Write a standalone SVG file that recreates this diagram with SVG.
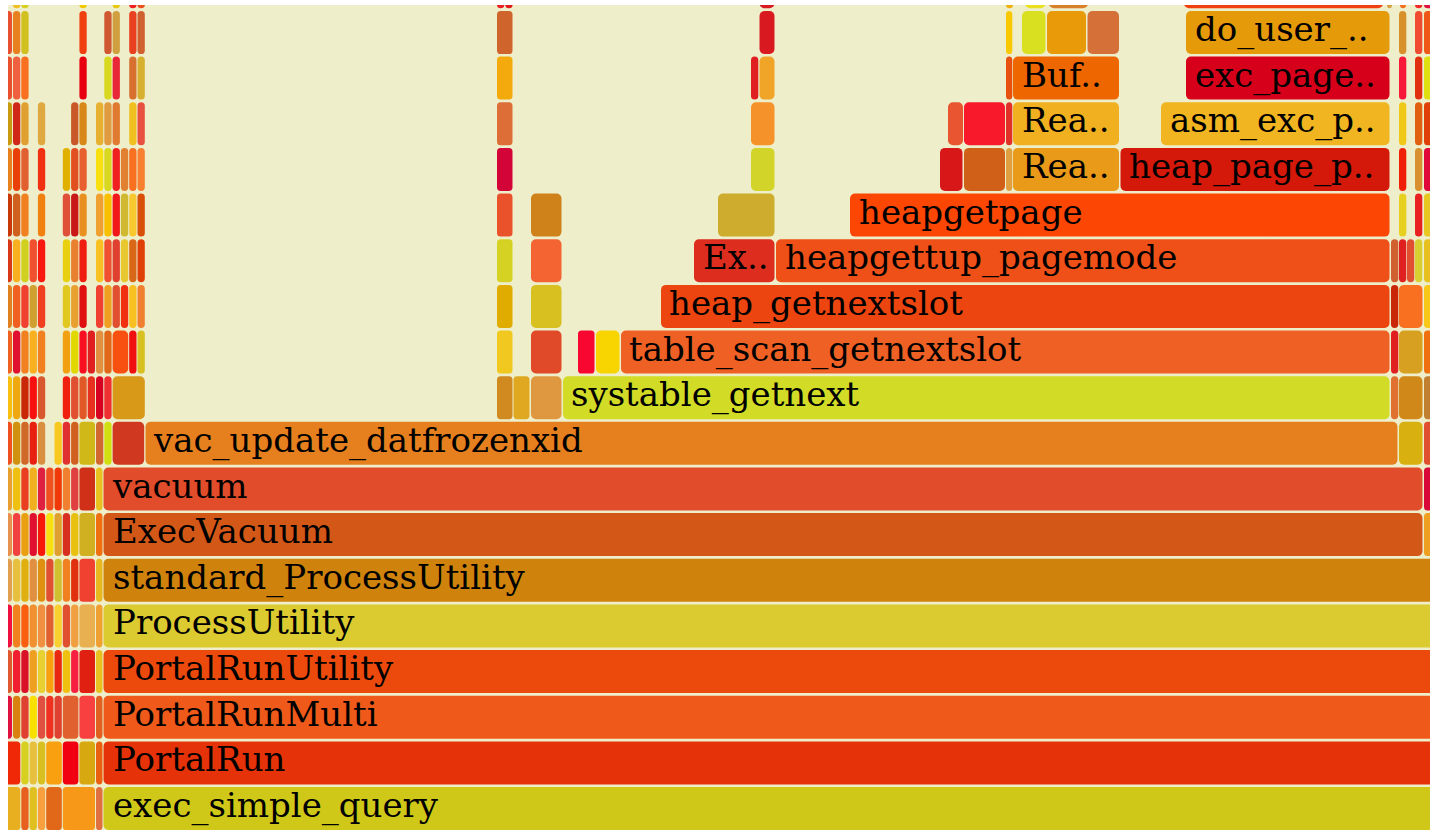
<svg xmlns="http://www.w3.org/2000/svg" width="1430" height="832" viewBox="0 0 1430 832">
<style>
  rect.b { rx: 5px; ry: 5px; }
  rect.n { rx: 3.6px; ry: 3.6px; }
  text { font-family: "DejaVu Serif", "Liberation Serif", serif; font-size: 34px; fill: #000; }
</style>
<defs>
  <clipPath id="plot"><rect x="8" y="5" width="1422" height="825"/></clipPath>
</defs>
<rect x="0" y="0" width="1430" height="832" fill="#ffffff"/>
<rect x="8" y="5" width="1422" height="825" fill="#eeeecb"/>

<g clip-path="url(#plot)">

<!-- narrow frames, left stack area, one group per depth -->
<g id="left-d0">
  <rect class="n" x="4.7" y="787" width="15.6" height="43" fill="#e8b020"/>
  <rect class="n" x="21.3" y="787" width="7.3" height="43" fill="#e86020"/>
  <rect class="n" x="29.6" y="787" width="7.3" height="43" fill="#e0c020"/>
  <rect class="n" x="37.9" y="787" width="7.3" height="43" fill="#f8a040"/>
  <rect class="n" x="46.2" y="787" width="15.6" height="43" fill="#e06818"/>
  <rect class="n" x="62.8" y="787" width="32.2" height="43" fill="#f89818"/>
  <rect class="n" x="96" y="787" width="6.5" height="43" fill="#e07040"/>
</g>
<g id="left-d1">
  <rect class="n" x="4.7" y="741.4" width="15.6" height="43" fill="#f02808"/>
  <rect class="n" x="21.3" y="741.4" width="7.3" height="43" fill="#d8d020"/>
  <rect class="n" x="29.6" y="741.4" width="7.3" height="43" fill="#e8c040"/>
  <rect class="n" x="37.9" y="741.4" width="7.3" height="43" fill="#d8c020"/>
  <rect class="n" x="46.2" y="741.4" width="15.6" height="43" fill="#f8a010"/>
  <rect class="n" x="62.8" y="741.4" width="15.6" height="43" fill="#f00010"/>
  <rect class="n" x="79.4" y="741.4" width="15.6" height="43" fill="#d8a810"/>
  <rect class="n" x="96" y="741.4" width="6.5" height="43" fill="#e86010"/>
</g>
<g id="left-d2">
  <rect class="n" x="4.7" y="695.7" width="7.3" height="43" fill="#e01040"/>
  <rect class="n" x="13" y="695.7" width="7.3" height="43" fill="#d88010"/>
  <rect class="n" x="21.3" y="695.7" width="7.3" height="43" fill="#e04030"/>
  <rect class="n" x="29.6" y="695.7" width="7.3" height="43" fill="#f8e000"/>
  <rect class="n" x="37.9" y="695.7" width="7.3" height="43" fill="#e05040"/>
  <rect class="n" x="46.2" y="695.7" width="7.3" height="43" fill="#f03020"/>
  <rect class="n" x="54.5" y="695.7" width="7.3" height="43" fill="#e04030"/>
  <rect class="n" x="62.8" y="695.7" width="15.6" height="43" fill="#e06030"/>
  <rect class="n" x="79.4" y="695.7" width="15.6" height="43" fill="#f84040"/>
  <rect class="n" x="96" y="695.7" width="6.5" height="43" fill="#e06020"/>
</g>
<g id="left-d3">
  <rect class="n" x="4.7" y="650.1" width="7.3" height="43" fill="#e05830"/>
  <rect class="n" x="13" y="650.1" width="7.3" height="43" fill="#f02030"/>
  <rect class="n" x="21.3" y="650.1" width="7.3" height="43" fill="#d81028"/>
  <rect class="n" x="29.6" y="650.1" width="7.3" height="43" fill="#f0a020"/>
  <rect class="n" x="37.9" y="650.1" width="7.3" height="43" fill="#e8d030"/>
  <rect class="n" x="46.2" y="650.1" width="7.3" height="43" fill="#f8a010"/>
  <rect class="n" x="54.5" y="650.1" width="7.3" height="43" fill="#e82810"/>
  <rect class="n" x="62.8" y="650.1" width="7.3" height="43" fill="#f0c010"/>
  <rect class="n" x="71.1" y="650.1" width="7.3" height="43" fill="#f82040"/>
  <rect class="n" x="79.4" y="650.1" width="15.6" height="43" fill="#e02010"/>
  <rect class="n" x="96" y="650.1" width="6.5" height="43" fill="#e8c020"/>
</g>
<g id="left-d4">
  <rect class="n" x="4.7" y="604.4" width="7.3" height="43" fill="#f01040"/>
  <rect class="n" x="13" y="604.4" width="7.3" height="43" fill="#f08020"/>
  <rect class="n" x="21.3" y="604.4" width="7.3" height="43" fill="#f86010"/>
  <rect class="n" x="29.6" y="604.4" width="7.3" height="43" fill="#f09030"/>
  <rect class="n" x="37.9" y="604.4" width="7.3" height="43" fill="#f09040"/>
  <rect class="n" x="46.2" y="604.4" width="7.3" height="43" fill="#e06030"/>
  <rect class="n" x="54.5" y="604.4" width="7.3" height="43" fill="#f8d030"/>
  <rect class="n" x="62.8" y="604.4" width="7.3" height="43" fill="#e05030"/>
  <rect class="n" x="71.1" y="604.4" width="7.3" height="43" fill="#f0a040"/>
  <rect class="n" x="79.4" y="604.4" width="15.6" height="43" fill="#e8b050"/>
  <rect class="n" x="96" y="604.4" width="6.5" height="43" fill="#f0a030"/>
</g>
<g id="left-d5">
  <rect class="n" x="4.7" y="558.8" width="7.3" height="43" fill="#e0a050"/>
  <rect class="n" x="13" y="558.8" width="7.3" height="43" fill="#e8c040"/>
  <rect class="n" x="21.3" y="558.8" width="7.3" height="43" fill="#e0b010"/>
  <rect class="n" x="29.6" y="558.8" width="7.3" height="43" fill="#e09040"/>
  <rect class="n" x="37.9" y="558.8" width="7.3" height="43" fill="#e09010"/>
  <rect class="n" x="46.2" y="558.8" width="7.3" height="43" fill="#e05030"/>
  <rect class="n" x="54.5" y="558.8" width="7.3" height="43" fill="#d0c030"/>
  <rect class="n" x="62.8" y="558.8" width="7.3" height="43" fill="#f08020"/>
  <rect class="n" x="71.1" y="558.8" width="7.3" height="43" fill="#e03010"/>
  <rect class="n" x="79.4" y="558.8" width="15.6" height="43" fill="#f04030"/>
  <rect class="n" x="96" y="558.8" width="6.5" height="43" fill="#e8b820"/>
</g>
<g id="left-d6">
  <rect class="n" x="4.7" y="513.1" width="7.3" height="43" fill="#e89050"/>
  <rect class="n" x="13" y="513.1" width="7.3" height="43" fill="#f04040"/>
  <rect class="n" x="21.3" y="513.1" width="7.3" height="43" fill="#e8a010"/>
  <rect class="n" x="29.6" y="513.1" width="7.3" height="43" fill="#e01030"/>
  <rect class="n" x="37.9" y="513.1" width="7.3" height="43" fill="#f81808"/>
  <rect class="n" x="46.2" y="513.1" width="7.3" height="43" fill="#f8e010"/>
  <rect class="n" x="54.5" y="513.1" width="7.3" height="43" fill="#e0a030"/>
  <rect class="n" x="62.8" y="513.1" width="7.3" height="43" fill="#d83020"/>
  <rect class="n" x="71.1" y="513.1" width="7.3" height="43" fill="#e8c010"/>
  <rect class="n" x="79.4" y="513.1" width="15.6" height="43" fill="#d0b020"/>
  <rect class="n" x="96" y="513.1" width="6.5" height="43" fill="#f07010"/>
</g>
<g id="left-d7">
  <rect class="n" x="4.7" y="467.5" width="7.3" height="43" fill="#e8a030"/>
  <rect class="n" x="13" y="467.5" width="7.3" height="43" fill="#f0c010"/>
  <rect class="n" x="21.3" y="467.5" width="7.3" height="43" fill="#e84020"/>
  <rect class="n" x="29.6" y="467.5" width="7.3" height="43" fill="#f0b020"/>
  <rect class="n" x="37.9" y="467.5" width="7.3" height="43" fill="#e02040"/>
  <rect class="n" x="46.2" y="467.5" width="7.3" height="43" fill="#f05020"/>
  <rect class="n" x="54.5" y="467.5" width="7.3" height="43" fill="#f03808"/>
  <rect class="n" x="62.8" y="467.5" width="7.3" height="43" fill="#f08030"/>
  <rect class="n" x="71.1" y="467.5" width="7.3" height="43" fill="#e04040"/>
  <rect class="n" x="79.4" y="467.5" width="15.6" height="43" fill="#d03018"/>
  <rect class="n" x="96" y="467.5" width="6.5" height="43" fill="#e8c020"/>
</g>
<g id="left-d8">
  <rect class="n" x="4.7" y="421.8" width="7.3" height="43" fill="#f05020"/>
  <rect class="n" x="13" y="421.8" width="7.3" height="43" fill="#d09010"/>
  <rect class="n" x="21.3" y="421.8" width="7.3" height="43" fill="#d06828"/>
  <rect class="n" x="29.6" y="421.8" width="7.3" height="43" fill="#e82010"/>
  <rect class="n" x="37.9" y="421.8" width="7.3" height="43" fill="#d89040"/>
  <rect class="n" x="54.5" y="421.8" width="7.3" height="43" fill="#f8c820"/>
  <rect class="n" x="62.8" y="421.8" width="7.3" height="43" fill="#e03030"/>
  <rect class="n" x="71.1" y="421.8" width="7.3" height="43" fill="#d06020"/>
  <rect class="n" x="79.4" y="421.8" width="15.6" height="43" fill="#d0b818"/>
  <rect class="n" x="96" y="421.8" width="7.3" height="43" fill="#d06830"/>
  <rect class="n" x="104.3" y="421.8" width="7.3" height="43" fill="#d0e010"/>
  <rect class="b" x="112.6" y="421.8" width="31.6" height="43" fill="#d03820"/>
</g>
<g id="left-d9">
  <rect class="n" x="4.7" y="376.2" width="7.3" height="43" fill="#f8c010"/>
  <rect class="n" x="13" y="376.2" width="7.3" height="43" fill="#f0a810"/>
  <rect class="n" x="21.3" y="376.2" width="7.3" height="43" fill="#c82808"/>
  <rect class="n" x="29.6" y="376.2" width="7.3" height="43" fill="#f81010"/>
  <rect class="n" x="37.9" y="376.2" width="7.3" height="43" fill="#d85830"/>
  <rect class="n" x="62.8" y="376.2" width="7.3" height="43" fill="#f02010"/>
  <rect class="n" x="71.1" y="376.2" width="7.3" height="43" fill="#e05030"/>
  <rect class="n" x="79.4" y="376.2" width="7.3" height="43" fill="#e05828"/>
  <rect class="n" x="87.7" y="376.2" width="7.3" height="43" fill="#e83020"/>
  <rect class="n" x="96" y="376.2" width="7.3" height="43" fill="#d80020"/>
  <rect class="n" x="104.3" y="376.2" width="7.3" height="43" fill="#f03030"/>
  <rect class="b" x="112.6" y="376.2" width="32.2" height="43" fill="#d89818"/>
</g>
<g id="left-d10">
  <rect class="n" x="4.7" y="330.5" width="7.3" height="43" fill="#f06020"/>
  <rect class="n" x="13" y="330.5" width="7.3" height="43" fill="#e01030"/>
  <rect class="n" x="21.3" y="330.5" width="7.3" height="43" fill="#f08020"/>
  <rect class="n" x="29.6" y="330.5" width="7.3" height="43" fill="#f8b020"/>
  <rect class="n" x="37.9" y="330.5" width="7.3" height="43" fill="#f08020"/>
  <rect class="n" x="62.8" y="330.5" width="7.3" height="43" fill="#f0a010"/>
  <rect class="n" x="71.1" y="330.5" width="7.3" height="43" fill="#e0d800"/>
  <rect class="n" x="79.4" y="330.5" width="7.3" height="43" fill="#f81020"/>
  <rect class="n" x="87.7" y="330.5" width="7.3" height="43" fill="#e02020"/>
  <rect class="n" x="96" y="330.5" width="7.3" height="43" fill="#e09040"/>
  <rect class="n" x="104.3" y="330.5" width="7.3" height="43" fill="#e06818"/>
  <rect class="b" x="112.6" y="330.5" width="15.6" height="43" fill="#f85010"/>
  <rect class="n" x="129.2" y="330.5" width="7.3" height="43" fill="#f01010"/>
  <rect class="n" x="137.5" y="330.5" width="7.3" height="43" fill="#d8c020"/>
</g>
<g id="left-d11">
  <rect class="n" x="4.7" y="284.9" width="7.3" height="43" fill="#e08020"/>
  <rect class="n" x="13" y="284.9" width="7.3" height="43" fill="#f06020"/>
  <rect class="n" x="21.3" y="284.9" width="7.3" height="43" fill="#f04030"/>
  <rect class="n" x="29.6" y="284.9" width="7.3" height="43" fill="#d0a030"/>
  <rect class="n" x="37.9" y="284.9" width="7.3" height="43" fill="#f04020"/>
  <rect class="n" x="62.8" y="284.9" width="7.3" height="43" fill="#e0c820"/>
  <rect class="n" x="71.1" y="284.9" width="7.3" height="43" fill="#e8a030"/>
  <rect class="n" x="79.4" y="284.9" width="7.3" height="43" fill="#e01010"/>
  <rect class="n" x="96" y="284.9" width="7.3" height="43" fill="#f04030"/>
  <rect class="n" x="104.3" y="284.9" width="7.3" height="43" fill="#f0a020"/>
  <rect class="n" x="112.6" y="284.9" width="7.3" height="43" fill="#e05030"/>
  <rect class="n" x="120.9" y="284.9" width="7.3" height="43" fill="#f03010"/>
  <rect class="n" x="129.2" y="284.9" width="7.3" height="43" fill="#f8c020"/>
  <rect class="n" x="137.5" y="284.9" width="7.3" height="43" fill="#f08030"/>
</g>
<g id="left-d12">
  <rect class="n" x="4.7" y="239.2" width="7.3" height="43" fill="#d83818"/>
  <rect class="n" x="13" y="239.2" width="7.3" height="43" fill="#f8b020"/>
  <rect class="n" x="21.3" y="239.2" width="7.3" height="43" fill="#d0d020"/>
  <rect class="n" x="29.6" y="239.2" width="7.3" height="43" fill="#f05030"/>
  <rect class="n" x="37.9" y="239.2" width="7.3" height="43" fill="#f81810"/>
  <rect class="n" x="62.8" y="239.2" width="7.3" height="43" fill="#e8d010"/>
  <rect class="n" x="71.1" y="239.2" width="7.3" height="43" fill="#e88030"/>
  <rect class="n" x="79.4" y="239.2" width="7.3" height="43" fill="#f02010"/>
  <rect class="n" x="96" y="239.2" width="7.3" height="43" fill="#f8c020"/>
  <rect class="n" x="104.3" y="239.2" width="7.3" height="43" fill="#f05030"/>
  <rect class="n" x="112.6" y="239.2" width="7.3" height="43" fill="#e04030"/>
  <rect class="n" x="120.9" y="239.2" width="7.3" height="43" fill="#e8c830"/>
  <rect class="n" x="129.2" y="239.2" width="7.3" height="43" fill="#d86818"/>
  <rect class="n" x="137.5" y="239.2" width="7.3" height="43" fill="#e04008"/>
</g>
<g id="left-d13">
  <rect class="n" x="4.7" y="193.6" width="7.3" height="43" fill="#c83808"/>
  <rect class="n" x="13" y="193.6" width="7.3" height="43" fill="#d06020"/>
  <rect class="n" x="21.3" y="193.6" width="7.3" height="43" fill="#f08020"/>
  <rect class="n" x="37.9" y="193.6" width="7.3" height="43" fill="#f08010"/>
  <rect class="n" x="62.8" y="193.6" width="7.3" height="43" fill="#e05038"/>
  <rect class="n" x="71.1" y="193.6" width="7.3" height="43" fill="#c81818"/>
  <rect class="n" x="79.4" y="193.6" width="7.3" height="43" fill="#e89020"/>
  <rect class="n" x="96" y="193.6" width="7.3" height="43" fill="#f0a030"/>
  <rect class="n" x="104.3" y="193.6" width="7.3" height="43" fill="#f8c000"/>
  <rect class="n" x="112.6" y="193.6" width="7.3" height="43" fill="#f01818"/>
  <rect class="n" x="120.9" y="193.6" width="7.3" height="43" fill="#d0b830"/>
  <rect class="n" x="129.2" y="193.6" width="7.3" height="43" fill="#f8c830"/>
  <rect class="n" x="137.5" y="193.6" width="7.3" height="43" fill="#d85008"/>
</g>
<g id="left-d14">
  <rect class="n" x="4.7" y="147.9" width="7.3" height="43" fill="#e88020"/>
  <rect class="n" x="13" y="147.9" width="7.3" height="43" fill="#e84008"/>
  <rect class="n" x="21.3" y="147.9" width="7.3" height="43" fill="#e06030"/>
  <rect class="n" x="37.9" y="147.9" width="7.3" height="43" fill="#f03010"/>
  <rect class="n" x="62.8" y="147.9" width="7.3" height="43" fill="#e0b000"/>
  <rect class="n" x="71.1" y="147.9" width="7.3" height="43" fill="#e05020"/>
  <rect class="n" x="79.4" y="147.9" width="7.3" height="43" fill="#e86030"/>
  <rect class="n" x="96" y="147.9" width="7.3" height="43" fill="#f8e010"/>
  <rect class="n" x="104.3" y="147.9" width="7.3" height="43" fill="#d8d820"/>
  <rect class="n" x="112.6" y="147.9" width="7.3" height="43" fill="#f02020"/>
  <rect class="n" x="120.9" y="147.9" width="7.3" height="43" fill="#e08030"/>
  <rect class="n" x="129.2" y="147.9" width="7.3" height="43" fill="#f87020"/>
  <rect class="n" x="137.5" y="147.9" width="7.3" height="43" fill="#f88030"/>
</g>
<g id="left-d15">
  <rect class="n" x="4.7" y="102.3" width="7.3" height="43" fill="#c89a10"/>
  <rect class="n" x="13" y="102.3" width="7.3" height="43" fill="#d02818"/>
  <rect class="n" x="21.3" y="102.3" width="7.3" height="43" fill="#e0a030"/>
  <rect class="n" x="37.9" y="102.3" width="7.3" height="43" fill="#e0a840"/>
  <rect class="n" x="71.1" y="102.3" width="7.3" height="43" fill="#c85828"/>
  <rect class="n" x="79.4" y="102.3" width="7.3" height="43" fill="#d88818"/>
  <rect class="n" x="96" y="102.3" width="7.3" height="43" fill="#e8b030"/>
  <rect class="n" x="104.3" y="102.3" width="7.3" height="43" fill="#e09a40"/>
  <rect class="n" x="112.6" y="102.3" width="7.3" height="43" fill="#e07a30"/>
  <rect class="n" x="129.2" y="102.3" width="7.3" height="43" fill="#f0c020"/>
  <rect class="n" x="137.5" y="102.3" width="7.3" height="43" fill="#e85040"/>
</g>
<g id="left-d16">
  <rect class="n" x="4.7" y="56.6" width="7.3" height="43" fill="#e85030"/>
  <rect class="n" x="13" y="56.6" width="7.3" height="43" fill="#f06040"/>
  <rect class="n" x="21.3" y="56.6" width="7.3" height="43" fill="#f87020"/>
  <rect class="n" x="79.4" y="56.6" width="7.3" height="43" fill="#e80010"/>
  <rect class="n" x="104.3" y="56.6" width="7.3" height="43" fill="#d8d820"/>
  <rect class="n" x="112.6" y="56.6" width="7.3" height="43" fill="#e82838"/>
  <rect class="n" x="129.2" y="56.6" width="7.3" height="43" fill="#d87030"/>
  <rect class="n" x="137.5" y="56.6" width="7.3" height="43" fill="#d8b030"/>
</g>
<g id="left-d17">
  <rect class="n" x="4.7" y="11" width="7.3" height="43" fill="#e85030"/>
  <rect class="n" x="13" y="11" width="7.3" height="43" fill="#e88020"/>
  <rect class="n" x="21.3" y="11" width="7.3" height="43" fill="#d0c020"/>
  <rect class="n" x="79.4" y="11" width="7.3" height="43" fill="#f04010"/>
  <rect class="n" x="104.3" y="11" width="7.3" height="43" fill="#d05830"/>
  <rect class="n" x="112.6" y="11" width="7.3" height="43" fill="#d0a040"/>
  <rect class="n" x="129.2" y="11" width="7.3" height="43" fill="#e84020"/>
  <rect class="n" x="137.5" y="11" width="7.3" height="43" fill="#d06030"/>
</g>
<g id="left-d18">
  <rect class="n" x="13" y="-34.7" width="7.3" height="43" fill="#f0c020"/>
  <rect class="n" x="21.3" y="-34.7" width="7.3" height="43" fill="#d8d020"/>
  <rect class="n" x="79.4" y="-34.7" width="7.3" height="43" fill="#f0c800"/>
  <rect class="n" x="112.6" y="-34.7" width="7.3" height="43" fill="#e8c810"/>
  <rect class="n" x="129.2" y="-34.7" width="7.3" height="43" fill="#f02020"/>
  <rect class="n" x="137.5" y="-34.7" width="7.3" height="43" fill="#e85020"/>
</g>

<!-- narrow frames in the middle towers -->
<g id="mid-towers">
  <rect class="n" x="497" y="376.2" width="15.5" height="43" fill="#d08a20"/>
  <rect class="n" x="513.5" y="376.2" width="16" height="43" fill="#e0a820"/>
  <rect class="b" x="531" y="376.2" width="30.5" height="43" fill="#e09840"/>
  <rect class="n" x="497" y="330.5" width="15.5" height="43" fill="#f0c820"/>
  <rect class="b" x="531" y="330.5" width="30.5" height="43" fill="#e04a28"/>
  <rect class="n" x="497" y="284.9" width="15.5" height="43" fill="#e0ac00"/>
  <rect class="b" x="531" y="284.9" width="30.5" height="43" fill="#d8c020"/>
  <rect class="n" x="497" y="239.2" width="15.5" height="43" fill="#d6d224"/>
  <rect class="b" x="531" y="239.2" width="30.5" height="43" fill="#f46432"/>
  <rect class="n" x="497" y="193.6" width="15.5" height="43" fill="#ea522c"/>
  <rect class="b" x="531" y="193.6" width="30.5" height="43" fill="#d0821a"/>
  <rect class="n" x="497" y="147.9" width="15.5" height="43" fill="#d20438"/>
  <rect class="n" x="497" y="102.3" width="15.5" height="43" fill="#de6e38"/>
  <rect class="n" x="497" y="56.6" width="15.5" height="43" fill="#f4aa0c"/>
  <rect class="n" x="497" y="11" width="15.5" height="43" fill="#cf652c"/>
  <rect class="n" x="497" y="-34.7" width="7.3" height="43" fill="#e82020"/>
  <rect class="n" x="505.3" y="-34.7" width="7.3" height="43" fill="#e01818"/>
  <rect class="n" x="578" y="330.5" width="16.5" height="43" fill="#f80830"/>
  <rect class="b" x="596" y="330.5" width="23.5" height="43" fill="#f8d400"/>
  <rect class="b" x="718" y="193.6" width="56.5" height="43" fill="#cdac2e"/>
  <rect class="b" x="751" y="147.9" width="23.5" height="43" fill="#d2d42a"/>
  <rect class="b" x="751" y="102.3" width="23.5" height="43" fill="#f6922a"/>
  <rect class="n" x="751" y="56.6" width="7.3" height="43" fill="#e02020"/>
  <rect class="b" x="759.5" y="56.6" width="15" height="43" fill="#f0a428"/>
  <rect class="b" x="759.5" y="11" width="15" height="43" fill="#d81a20"/>
  <rect class="b" x="759.5" y="-34.7" width="15" height="43" fill="#d81a20"/>
</g>

<!-- small frames beside the page-fault stack -->
<g id="fault-side">
  <rect class="b" x="940" y="147.9" width="22.5" height="43" fill="#d81818"/>
  <rect class="b" x="964" y="147.9" width="41" height="43" fill="#d06018"/>
  <rect class="n" x="1006" y="147.9" width="6.3" height="43" fill="#e0a040"/>
  <rect class="b" x="948" y="102.3" width="15" height="43" fill="#e85530"/>
  <rect class="b" x="964" y="102.3" width="41" height="43" fill="#f81a2a"/>
  <rect class="n" x="1006" y="102.3" width="6.3" height="43" fill="#e03028"/>
  <rect class="n" x="1006" y="56.6" width="6.3" height="43" fill="#e85010"/>
  <rect class="n" x="1006" y="11" width="6.3" height="43" fill="#f8c800"/>
  <rect class="b" x="1022" y="11" width="23.5" height="43" fill="#d8e020"/>
  <rect class="b" x="1047" y="11" width="39" height="43" fill="#e89a08"/>
  <rect class="b" x="1087.5" y="11" width="31.5" height="43" fill="#d47038"/>
  <rect class="n" x="1006" y="-34.7" width="7" height="43" fill="#f0b010"/>
  <rect class="b" x="1025" y="-34.7" width="20.5" height="43" fill="#e8e020"/>
  <rect class="b" x="1049" y="-34.7" width="39" height="43" fill="#d8802a"/>
  <rect class="b" x="1184" y="-34.7" width="199" height="43" fill="#f04010"/>
</g>

<!-- narrow frames on the right edge -->
<g id="right-edge">
  <rect class="n" x="1424" y="513.1" width="10" height="43" fill="#f0a020"/>
  <rect class="n" x="1424" y="467.5" width="10" height="43" fill="#d80838"/>
  <rect class="b" x="1399" y="421.8" width="23.5" height="43" fill="#d8b010"/>
  <rect class="n" x="1424" y="421.8" width="10" height="43" fill="#e05030"/>
  <rect class="n" x="1391" y="376.2" width="7.3" height="43" fill="#e07030"/>
  <rect class="b" x="1399" y="376.2" width="23.5" height="43" fill="#d08818"/>
  <rect class="n" x="1424" y="376.2" width="10" height="43" fill="#c08030"/>
  <rect class="n" x="1391" y="330.5" width="7.3" height="43" fill="#e02020"/>
  <rect class="b" x="1399" y="330.5" width="23.5" height="43" fill="#d8a020"/>
  <rect class="n" x="1424" y="330.5" width="10" height="43" fill="#f07010"/>
  <rect class="n" x="1391" y="284.9" width="7.3" height="43" fill="#c82808"/>
  <rect class="b" x="1399" y="284.9" width="23.5" height="43" fill="#f87020"/>
  <rect class="n" x="1424" y="284.9" width="10" height="43" fill="#f8c818"/>
  <rect class="n" x="1391" y="239.2" width="7.3" height="43" fill="#d06030"/>
  <rect class="n" x="1399" y="239.2" width="7.3" height="43" fill="#e02020"/>
  <rect class="n" x="1407" y="239.2" width="7.3" height="43" fill="#e05030"/>
  <rect class="n" x="1415" y="239.2" width="7.3" height="43" fill="#d8d030"/>
  <rect class="n" x="1424" y="239.2" width="10" height="43" fill="#e8c020"/>
  <rect class="n" x="1399" y="193.6" width="7.3" height="43" fill="#e8d020"/>
  <rect class="n" x="1415" y="193.6" width="7.3" height="43" fill="#e82020"/>
  <rect class="n" x="1424" y="193.6" width="10" height="43" fill="#e8c820"/>
  <rect class="n" x="1399" y="147.9" width="7.3" height="43" fill="#f02008"/>
  <rect class="n" x="1415" y="147.9" width="7.3" height="43" fill="#d89030"/>
  <rect class="n" x="1424" y="147.9" width="10" height="43" fill="#e00838"/>
  <rect class="n" x="1399" y="102.3" width="7.3" height="43" fill="#f0c818"/>
  <rect class="n" x="1415" y="102.3" width="7.3" height="43" fill="#e06010"/>
  <rect class="n" x="1424" y="102.3" width="10" height="43" fill="#e04008"/>
  <rect class="n" x="1399" y="56.6" width="7.3" height="43" fill="#f81838"/>
  <rect class="n" x="1415" y="56.6" width="7.3" height="43" fill="#e03010"/>
  <rect class="n" x="1424" y="56.6" width="10" height="43" fill="#e0e010"/>
  <rect class="n" x="1399" y="11" width="7.3" height="43" fill="#d8902a"/>
  <rect class="n" x="1415" y="11" width="7.3" height="43" fill="#f04a30"/>
  <rect class="n" x="1424" y="11" width="10" height="43" fill="#f05818"/>
  <rect class="n" x="1387" y="-34.7" width="5" height="43" fill="#d8a040"/>
  <rect class="n" x="1400" y="-34.7" width="6" height="43" fill="#f07020"/>
  <rect class="n" x="1415" y="-34.7" width="7.3" height="43" fill="#f02828"/>
  <rect class="n" x="1424" y="-34.7" width="10" height="43" fill="#e01040"/>
</g>

<!-- labelled frames -->
<g id="exec_simple_query"><rect class="b" x="103.5" y="787" width="1340" height="43" fill="#d0c818"/><text x="113" y="817">exec_simple_query</text></g>
<g id="PortalRun"><rect class="b" x="103.5" y="741.4" width="1340" height="43" fill="#e63208"/><text x="113" y="771.4">PortalRun</text></g>
<g id="PortalRunMulti"><rect class="b" x="103.5" y="695.7" width="1340" height="43" fill="#ef5a1a"/><text x="113" y="725.7">PortalRunMulti</text></g>
<g id="PortalRunUtility"><rect class="b" x="103.5" y="650.1" width="1340" height="43" fill="#ec4a0c"/><text x="113" y="680.1">PortalRunUtility</text></g>
<g id="ProcessUtility"><rect class="b" x="103.5" y="604.4" width="1340" height="43" fill="#dbca30"/><text x="113" y="634.4">ProcessUtility</text></g>
<g id="standard_ProcessUtility"><rect class="b" x="103.5" y="558.8" width="1340" height="43" fill="#cf830c"/><text x="113" y="588.8">standard_ProcessUtility</text></g>
<g id="ExecVacuum"><rect class="b" x="103.5" y="513.1" width="1319" height="43" fill="#d35818"/><text x="113" y="543.1">ExecVacuum</text></g>
<g id="vacuum"><rect class="b" x="103.5" y="467.5" width="1319" height="43" fill="#e14c2a"/><text x="113" y="497.5">vacuum</text></g>
<g id="vac_update_datfrozenxid"><rect class="b" x="145.5" y="421.8" width="1252" height="43" fill="#e6801e"/><text x="154" y="451.8">vac_update_datfrozenxid</text></g>
<g id="systable_getnext"><rect class="b" x="563" y="376.2" width="826.5" height="43" fill="#d2dc26"/><text x="571" y="406.2">systable_getnext</text></g>
<g id="table_scan_getnextslot"><rect class="b" x="621" y="330.5" width="768.5" height="43" fill="#ef6024"/><text x="629" y="360.5">table_scan_getnextslot</text></g>
<g id="heap_getnextslot"><rect class="b" x="661" y="284.9" width="728.5" height="43" fill="#ec4510"/><text x="669" y="314.9">heap_getnextslot</text></g>
<g id="Ex"><rect class="b" x="694" y="239.2" width="80.5" height="43" fill="#dc2d1e"/><text x="703" y="269.2">Ex..</text></g>
<g id="heapgettup_pagemode"><rect class="b" x="776" y="239.2" width="613.5" height="43" fill="#ef5018"/><text x="785" y="269.2">heapgettup_pagemode</text></g>
<g id="heapgetpage"><rect class="b" x="850" y="193.6" width="539.5" height="43" fill="#fc4604"/><text x="859" y="223.6">heapgetpage</text></g>
<g id="Rea_1"><rect class="b" x="1013" y="147.9" width="106" height="43" fill="#e89a18"/><text x="1022" y="177.9">Rea..</text></g>
<g id="heap_page_p"><rect class="b" x="1120.5" y="147.9" width="269" height="43" fill="#d4180a"/><text x="1129" y="177.9">heap_page_p..</text></g>
<g id="Rea_2"><rect class="b" x="1013" y="102.3" width="106" height="43" fill="#f0b020"/><text x="1022" y="132.3">Rea..</text></g>
<g id="asm_exc_p"><rect class="b" x="1161" y="102.3" width="228.5" height="43" fill="#f0b520"/><text x="1170" y="132.3">asm_exc_p..</text></g>
<g id="Buf"><rect class="b" x="1013" y="56.6" width="106" height="43" fill="#ee6600"/><text x="1022" y="86.6">Buf..</text></g>
<g id="exc_page"><rect class="b" x="1186" y="56.6" width="203.5" height="43" fill="#d6001a"/><text x="1195" y="86.6">exc_page..</text></g>
<g id="do_user"><rect class="b" x="1186" y="11" width="203.5" height="43" fill="#e59a0a"/><text x="1195" y="41">do_user_..</text></g>

</g>
</svg>
